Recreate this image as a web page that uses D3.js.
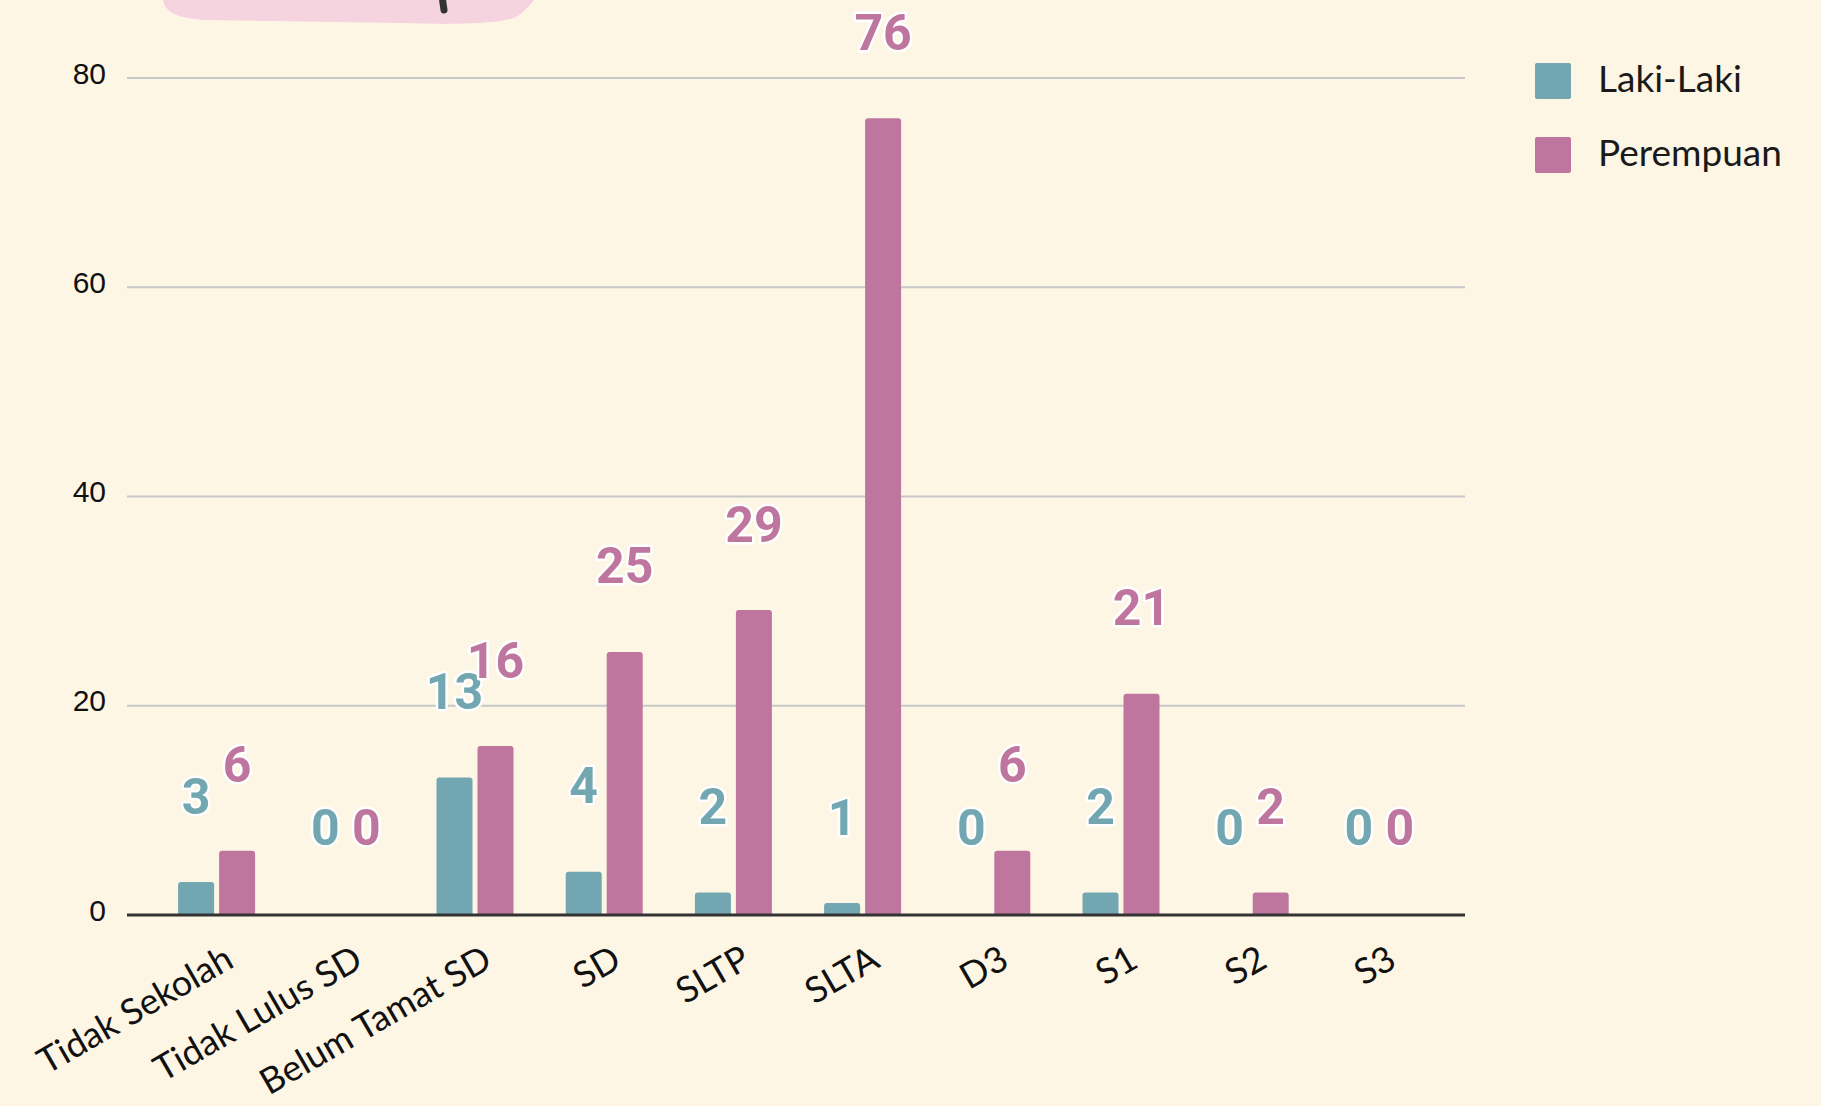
<!DOCTYPE html>
<html>
<head>
<meta charset="utf-8">
<script src="https://cdn.jsdelivr.net/npm/d3@7"></script>
<style>
  html, body { margin: 0; padding: 0; background: #fef6e5; }
  svg { display: block; }
</style>
</head>
<body>
<div id="chart"></div>
<script>
const width = 1821;
const height = 1106;

const categories = ["Tidak Sekolah", "Tidak Lulus SD", "Belum Tamat SD", "SD", "SLTP", "SLTA", "D3", "S1", "S2", "S3"];
const seriesNames = ["Laki-Laki", "Perempuan"];
const lakiLaki = [3, 0, 13, 4, 2, 1, 0, 2, 0, 0];
const perempuan = [6, 0, 16, 25, 29, 76, 6, 21, 2, 0];
const yTicks = [0, 20, 40, 60, 80];

const colors = ["#72a6b0", "#be769e"];

const svg = d3.select("#chart")
    .append("svg")
    .attr("width", width)
    .attr("height", height);

svg.append("rect")
    .attr("width", width)
    .attr("height", height)
    .attr("fill", "#fef6e5");

// pink title blob cut off at the top edge
svg.append("path")
    .attr("d", "M163,0 C165,12 176,18 205,20 L400,23 C455,25 505,24 518,16 C526,10 531,4 534,0 Z")
    .attr("fill", "#f5d4e0");
svg.append("line")
    .attr("x1", 442).attr("y1", -4)
    .attr("x2", 444).attr("y2", 10)
    .attr("stroke", "#333")
    .attr("stroke-width", 7)
    .attr("stroke-linecap", "round");

const x0 = d3.scaleBand()
    .domain(categories)
    .range([152, 1444]);

const x1 = d3.scaleBand()
    .domain(seriesNames)
    .range([-38.5, 38.5])
    .paddingInner(0.122);

const y = d3.scaleLinear()
    .domain([0, 80])
    .range([915, 78]);

const gridLeft = 127;
const gridRight = 1465;

// gridlines
svg.selectAll("line.grid")
    .data(yTicks.filter(d => d > 0))
    .enter()
    .append("line")
    .attr("class", "grid")
    .attr("x1", gridLeft)
    .attr("x2", gridRight)
    .attr("y1", d => y(d))
    .attr("y2", d => y(d))
    .attr("stroke", "#c8c8c8")
    .attr("stroke-width", 2);

// y tick labels
svg.selectAll("text.ytick")
    .data(yTicks)
    .enter()
    .append("text")
    .attr("class", "ytick")
    .attr("x", 106)
    .attr("y", d => y(d) - 5)
    .attr("dy", "0.35em")
    .attr("text-anchor", "end")
    .attr("font-family", "'Liberation Sans', Arial, sans-serif")
    .attr("font-size", 30)
    .attr("fill", "#111")
    .text(d => d);

const rows = categories.map((name, i) => ({
    name,
    values: [lakiLaki[i], perempuan[i]]
}));

function barPath(x, top, w, bottom, r) {
    const h = bottom - top;
    r = Math.min(r, h, w / 2);
    return `M${x},${bottom} L${x},${top + r} Q${x},${top} ${x + r},${top} ` +
        `L${x + w - r},${top} Q${x + w},${top} ${x + w},${top + r} L${x + w},${bottom} Z`;
}

const groups = svg.selectAll("g.group")
    .data(rows)
    .enter()
    .append("g")
    .attr("class", "group")
    .attr("transform", d => `translate(${x0(d.name) + x0.bandwidth() / 2},0)`);

groups.selectAll("path.bar")
    .data(d => d.values.map((v, k) => ({ v, k })).filter(d => d.v > 0))
    .enter()
    .append("path")
    .attr("class", "bar")
    .attr("d", d => barPath(x1(seriesNames[d.k]), y(d.v) - 1.5, x1.bandwidth(), y(0), 3))
    .attr("fill", d => colors[d.k]);

// x axis line
svg.append("line")
    .attr("x1", gridLeft)
    .attr("x2", gridRight)
    .attr("y1", y(0))
    .attr("y2", y(0))
    .attr("stroke", "#333")
    .attr("stroke-width", 3);

// value labels
groups.selectAll("text.value")
    .data(d => d.values.map((v, k) => ({ v, k })))
    .enter()
    .append("text")
    .attr("class", "value")
    .attr("x", d => x1(seriesNames[d.k]) + x1.bandwidth() / 2)
    .attr("y", d => y(d.v) - 70)
    .attr("text-anchor", "middle")
    .attr("font-family", "Roboto, sans-serif")
    .attr("font-weight", 700)
    .attr("font-size", 50)
    .attr("fill", d => colors[d.k])
    .attr("stroke", "#fff")
    .attr("stroke-width", 5)
    .attr("stroke-linejoin", "round")
    .attr("paint-order", "stroke")
    .text(d => d.v);

// category labels
svg.selectAll("text.xlabel")
    .data(categories)
    .enter()
    .append("text")
    .attr("class", "xlabel")
    .attr("transform", d => `translate(${x0(d) + x0.bandwidth() / 2 + 19},966) rotate(-30)`)
    .attr("text-anchor", "end")
    .attr("font-family", "Lato, sans-serif")
    .attr("font-size", 36)
    .attr("fill", "#111")
    .text(d => d);

// legend
const legend = svg.selectAll("g.legend")
    .data(seriesNames)
    .enter()
    .append("g")
    .attr("class", "legend")
    .attr("transform", (d, i) => `translate(1535,${63 + i * 74})`);

legend.append("rect")
    .attr("width", 36)
    .attr("height", 36)
    .attr("rx", 2)
    .attr("fill", (d, i) => colors[i]);

legend.append("text")
    .attr("x", 63)
    .attr("y", 29)
    .attr("font-family", "Lato, sans-serif")
    .attr("font-size", 37)
    .attr("fill", "#1a1a1a")
    .text(d => d);
</script>
</body>
</html>
